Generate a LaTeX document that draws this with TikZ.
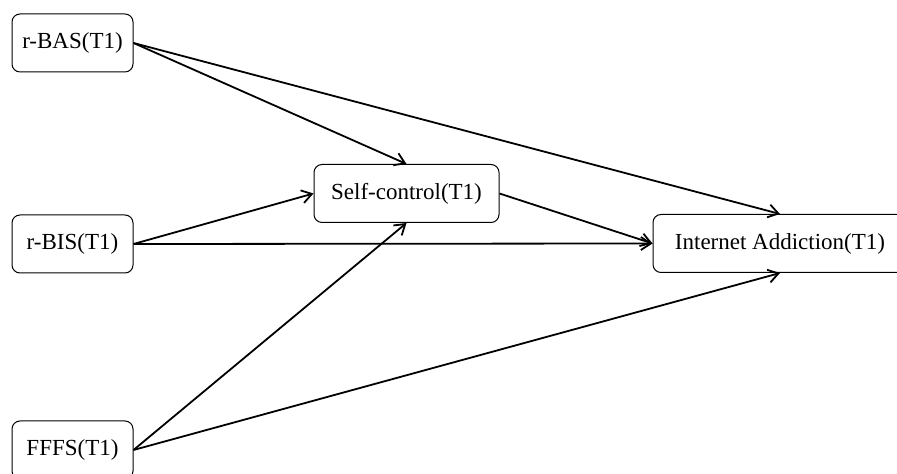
\documentclass[tikz,border=0pt]{standalone}
\usepackage{fontspec}
\setmainfont{Liberation Serif}
\usetikzlibrary{arrows.meta}
\tikzstyle{factor}=[draw,line width=0.5pt,rounded corners=4pt,minimum width=60.5pt,minimum height=29pt,inner sep=0pt,font=\fontsize{11.5}{13}\selectfont]
\tikzstyle{mediator} = [factor, minimum width=92.5pt]
\tikzstyle{outcome} = [factor, minimum width=127pt]
\tikzstyle{link} = [draw,line width=0.9pt,-{Straight Barb[length=5pt,width=6.5pt]}]

\begin{document}
\begin{tikzpicture}[x=0.5pt,y=-0.5pt]
    \useasboundingbox (0,0) rectangle (897,474);
    % Predictors on the left
    \foreach \pos/\name/\label in {{(72.5,43)/bas/r-BAS(T1)}, {(72.5,244)/bis/r-BIS(T1)}, {(72.5,450)/fffs/FFFS(T1)}}
        \node[factor] (\name) at \pos {\label};

    % Mediator and outcome
    \node[mediator] (sc) at (406.5,193.5) {Self-control(T1)};
    \node[outcome] (ia) at (780,243.5) {Internet Addiction(T1)};

    % Connect the boxes
    \foreach \source/\dest in {bas.east/sc.north, bas.east/ia.north, bis.east/sc.west, bis.east/ia.west, fffs.east/sc.south, fffs.east/ia.south, sc.east/ia.west}
        \path[link] (\source) -- (\dest);

\end{tikzpicture}
\end{document}
